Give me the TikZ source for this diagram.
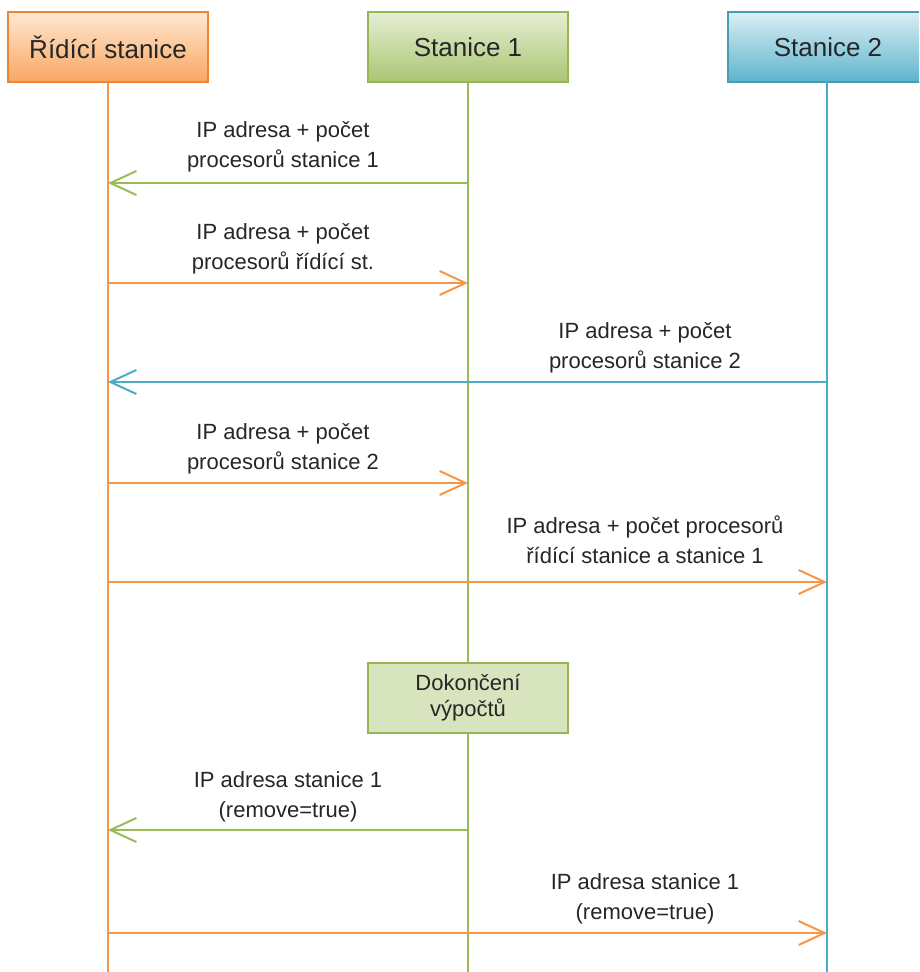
\documentclass[tikz,border=0pt]{standalone}
\usepackage{fontspec}
\setmainfont{Liberation Sans}
\usetikzlibrary{positioning,arrows.meta}

\definecolor{oranz}{HTML}{F79646}
\definecolor{oranzokraj}{HTML}{EE8535}
\definecolor{zelena}{HTML}{9BBB59}
\definecolor{zelenaokraj}{HTML}{95B653}
\definecolor{modra}{HTML}{4BACC6}
\definecolor{modraokraj}{HTML}{4A9BB5}
\definecolor{pismo}{HTML}{262626}

\begin{document}
\begin{tikzpicture}[x=1pt,y=-1pt,
	hlava/.style={draw,line width=2pt,minimum width=200pt,minimum height=70pt,inner sep=0pt,
		text=pismo,font=\fontsize{26}{30}\selectfont},
	zivot/.style={line width=2pt},
	zprava/.style={line width=2pt,-{Straight Barb[length=26pt,width=24pt,line width=2pt]}},
	popis/.style={align=center,text=pismo,inner sep=0pt,font=\fontsize{22}{30}\selectfont}]
			\clip (0,0) rectangle (919,972);

			\node(ridici) [hlava,oranzokraj,top color=orange!18!white,bottom color=oranz!85!white] at (108,47) {\color{pismo}Řídící stanice};
			\node(st1)    [hlava,zelenaokraj,top color=zelena!25!white,bottom color=zelena!85!white] at (468,47) {\color{pismo}Stanice 1};
			\node(st2)    [hlava,modraokraj,top color=modra!20!white,bottom color=modra!90!white] at (828,47) {\color{pismo}Stanice 2};

			% konce zivotnich car
			\coordinate (rk) at (ridici |- 0,972);
			\coordinate (s1k) at (st1 |- 0,972);
			\coordinate (s2k) at (827,972);
			\draw[zivot,oranz] (ridici) -- (rk);
			\draw[zivot,zelena] (st1) -- (s1k);
			\draw[zivot,modra] (827,82) -- (s2k);

			\node(konec) [draw=zelenaokraj,line width=2pt,fill=zelena!40!white,minimum width=200pt,minimum height=70pt,
				popis,font=\fontsize{22}{26}\selectfont] at (468,698) {Dokončení\\výpočtů};

			% body zprav
			\coordinate (r1) at (108,183); \coordinate (s1) at (468,183);
			\coordinate (r2) at (108,283); \coordinate (s2) at (468,283);
			\coordinate (r3) at (108,382); \coordinate (t3) at (827,382);
			\coordinate (r4) at (108,483); \coordinate (s4) at (468,483);
			\coordinate (r5) at (108,582); \coordinate (t5) at (827,582);
			\coordinate (r6) at (108,830); \coordinate (s6) at (468,830);
			\coordinate (r7) at (108,933); \coordinate (t7) at (827,933);

			\draw[zprava,zelena] (s1) -- (r1);
			\draw[zprava,oranz] (r2) -- (s2);
			\draw[zprava,modra] (t3) -- (r3);
			\draw[zprava,oranz] (r4) -- (s4);
			\draw[zprava,oranz] (r5) -- (t5);
			\draw[zprava,zelena] (s6) -- (r6);
			\draw[zprava,oranz] (r7) -- (t7);

			\node(p1) [popis] at (283,147) {IP adresa + počet\\procesorů stanice 1};
			\node(p2) [popis] at (283,249) {IP adresa + počet\\procesorů řídící st.};
			\node(p3) [popis] at (645,348) {IP adresa + počet\\procesorů stanice 2};
			\node(p4) [popis] at (283,449) {IP adresa + počet\\procesorů stanice 2};
			\node(p5) [popis] at (645,540) {IP adresa + počet procesorů\\řídící stanice a stanice 1};
			\node(p6) [popis] at (288,797) {IP adresa stanice 1\\(remove=true)};
			\node(p7) [popis] at (645,899) {IP adresa stanice 1\\(remove=true)};
		\end{tikzpicture}
\end{document}
